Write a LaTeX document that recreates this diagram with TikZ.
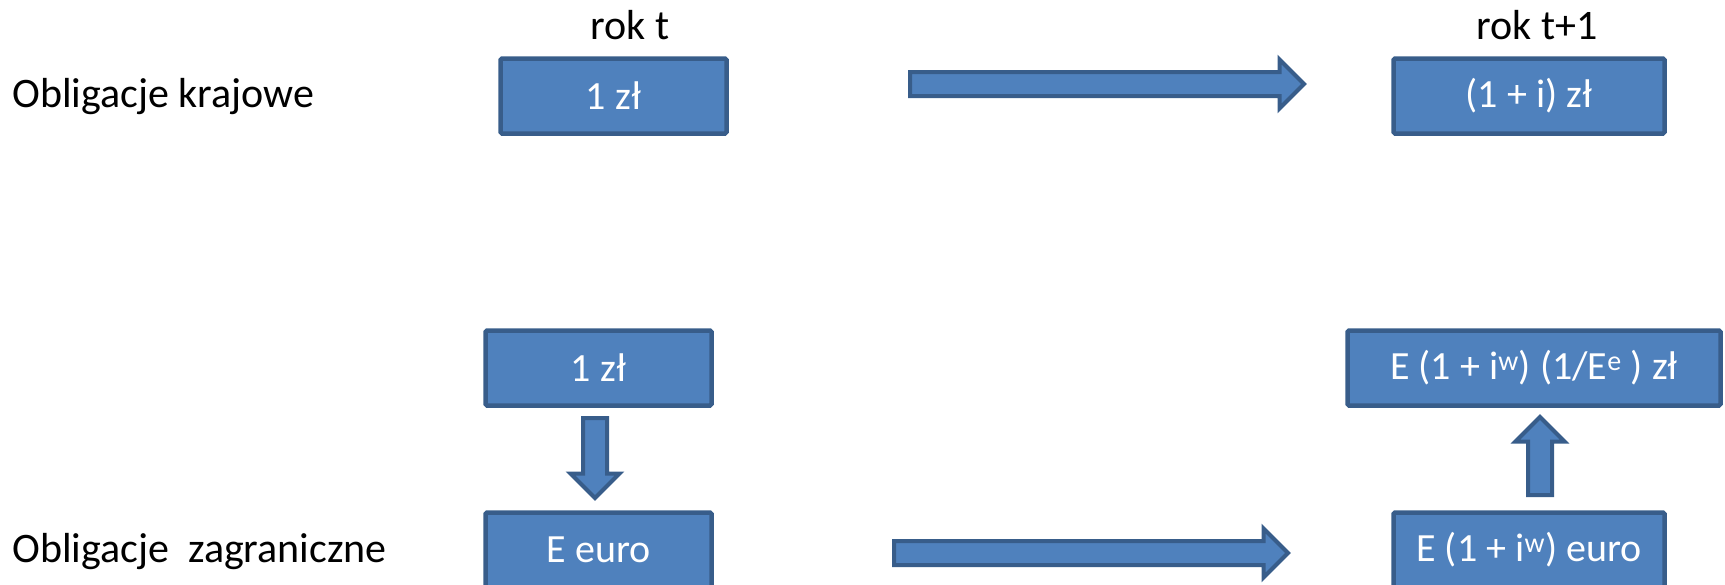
\documentclass[tikz,border=0pt]{standalone}
\usepackage{fontspec}
\setmainfont{Carlito}
\usetikzlibrary{shapes.arrows}

\definecolor{boxfill}{HTML}{4F81BD}
\definecolor{boxline}{HTML}{385D8A}

\tikzset{
  box/.style={draw=boxline, fill=boxfill, line width=4.5pt, rounded corners=1.5pt,
    text=white, minimum height=75pt, inner sep=0, font=\fontsize{40}{48}\selectfont},
  blockarrow/.style={single arrow, draw=boxline, fill=boxfill, line width=4pt,
    inner xsep=0, inner ysep=10pt, single arrow head extend=12.5pt,
    single arrow tip angle=90},
  label/.style={font=\fontsize{42}{50}\selectfont, inner sep=0}
}

\begin{document}
\begin{tikzpicture}[x=1pt, y=-1pt]
  \useasboundingbox (0,0) rectangle (1725,584);
  \clip (0,0) rectangle (1725,584);

  % column headers
  \node[label, anchor=base] (yr0) at (630,39) {rok t};
  \node[label, anchor=base] (yr1) at (1537,39) {rok t+1};

  % row labels
  \node[label, anchor=base west] (dom) at (12,107) {Obligacje krajowe};
  \node[label, anchor=base west] (for) at (12,562) {Obligacje\ \ zagraniczne};

  % domestic bonds
  \node[box, minimum width=226pt] (dom0) at (613.5,96) {1 zł};
  \node[box, minimum width=271pt] (dom1) at (1529,96) {(1 + i) zł};

  % foreign bonds
  \node[box, minimum width=226pt] (for0) at (598.5,368) {1 zł};
  \node[box, minimum width=226pt] (for1) at (598.5,550) {E euro};
  \node[box, minimum width=271pt] (for2) at (1529,550) {E (1 + i\textsuperscript{w}) euro};
  \node[box, minimum width=373pt] (for3) at (1534,368) {E (1 + i\textsuperscript{w}) (1/E\textsuperscript{e} ) zł};

  % block arrows
  \node[blockarrow, minimum height=394pt] (a1) at (1101,84) {};
  \node[blockarrow, minimum height=394pt] (a2) at (1085,553) {};
  \node[blockarrow, minimum height=80pt, rotate=270] (a3) at (595,452) {};
  \node[blockarrow, minimum height=78pt, rotate=90] (a4) at (1540,462) {};
\end{tikzpicture}
\end{document}
